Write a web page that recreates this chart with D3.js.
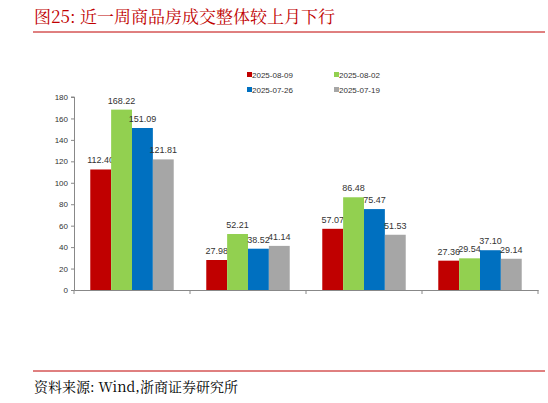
<!DOCTYPE html><html><head><meta charset="utf-8"><script src="https://cdn.jsdelivr.net/npm/d3@7"></script>
<style>body{margin:0;background:#fff}</style></head><body><svg id="c" width="548" height="403"></svg><script>
const categories=["组1","组2","组3","组4"];
const seriesNames=["2025-08-09","2025-08-02","2025-07-26","2025-07-19"];
const colors=["#C00000","#92D050","#0070C0","#A6A6A6"];
const s0809=[112.40,27.98,57.07,27.36];
const s0802=[168.22,52.21,86.48,29.54];
const s0726=[151.09,38.52,75.47,37.10];
const s0719=[121.81,41.14,51.53,29.14];
const yTicks=[0,20,40,60,80,100,120,140,160,180];
const series=[s0809,s0802,s0726,s0719];
const svg=d3.select("#c");
const serif="'Noto Serif CJK SC','Liberation Serif','Times New Roman',serif";
svg.append("text").attr("x",34).attr("y",23).attr("fill","#C00000").attr("font-family",serif).attr("font-size",17).text("图25:  近一周商品房成交整体较上月下行");
svg.append("line").attr("x1",33).attr("x2",545).attr("y1",32).attr("y2",32).attr("stroke","#C00000").attr("stroke-width",1);
svg.append("line").attr("x1",33).attr("x2",545).attr("y1",371).attr("y2",371).attr("stroke","#C00000").attr("stroke-width",1);
svg.append("text").attr("x",34).attr("y",392).attr("fill","#000").attr("font-family",serif).attr("font-size",14).text("资料来源: Wind,浙商证券研究所");
const x=d3.scaleBand().domain(categories).range([74,538]);
const xi=d3.scaleBand().domain(d3.range(4)).range([0,x.bandwidth()]).paddingOuter(0.78).paddingInner(0);
const y=d3.scaleLinear().domain([0,180]).range([290,97]);
const ya=svg.append("g").attr("transform","translate(74,0)").call(d3.axisLeft(y).tickValues(yTicks).tickSize(3).tickFormat(d3.format("d")));
ya.selectAll("text").attr("font-family","Liberation Sans,Arial").attr("font-size",8).attr("fill","#333");
ya.selectAll("line,path").attr("stroke","#888");
ya.select("path").attr("d","M-3,290.5H0.5V97M0.5,97H-3");
series.forEach((s,i)=>{
 const g=svg.append("g");
 g.selectAll("rect").data(s).join("rect").attr("x",(d,j)=>x(categories[j])+xi(i)).attr("width",xi.bandwidth()).attr("y",d=>y(d)).attr("height",d=>290-y(d)).attr("fill",colors[i]);
 g.selectAll("text").data(s).join("text").attr("x",(d,j)=>x(categories[j])+xi(i)+xi.bandwidth()/2).attr("y",d=>y(d)-6).attr("text-anchor","middle").attr("font-family","Liberation Sans,Arial").attr("font-size",9).attr("fill","#333").text(d=>d.toFixed(2));
});
const xa=svg.append("g").attr("transform","translate(0,290)").call(d3.axisBottom(x).tickValues([]).tickSizeOuter(0));
xa.select("path").attr("stroke","#888");
svg.append("g").selectAll("line").data(d3.range(5)).join("line").attr("x1",d=>74+d*x.step()).attr("x2",d=>74+d*x.step()).attr("y1",290).attr("y2",294).attr("stroke","#888");
seriesNames.forEach((n,i)=>{
 const lx=247+(i%2)*87, ly=75+Math.floor(i/2)*15;
 svg.append("rect").attr("x",lx).attr("y",ly-3).attr("width",5).attr("height",5).attr("fill",colors[i]);
 svg.append("text").attr("x",lx+5).attr("y",ly+3).attr("font-family","Liberation Sans,Arial").attr("font-size",8).attr("fill","#333").text(n);
});
</script></body></html>
